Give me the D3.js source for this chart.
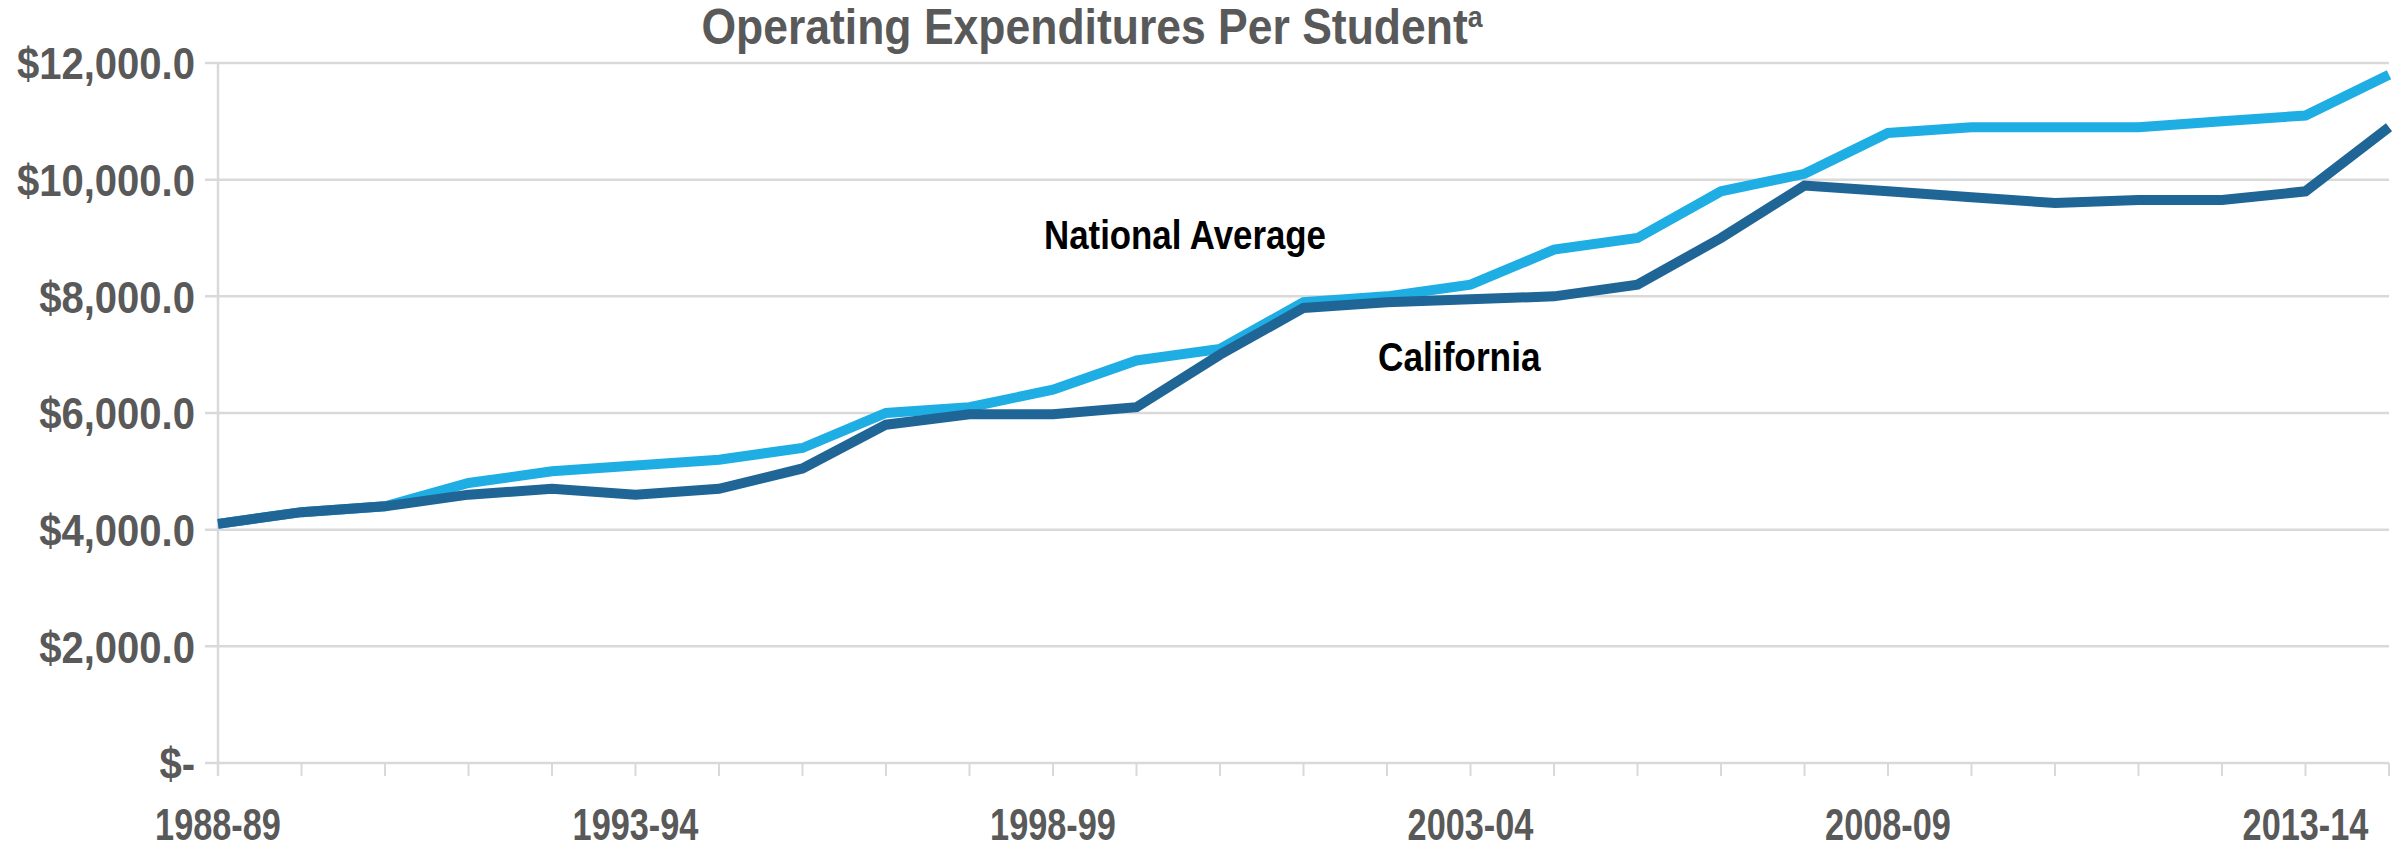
<!DOCTYPE html>
<html>
<head>
<meta charset="utf-8">
<script src="https://cdn.jsdelivr.net/npm/d3@7"></script>
<style>
  body { margin: 0; background: #fff; }
  svg text { font-family: "Liberation Sans", Arial, sans-serif; font-weight: bold; }
</style>
</head>
<body>
<div class="chart"></div>
<script>
// school years on the category axis
const years = ["1988-89", "1989-90", "1990-91", "1991-92", "1992-93", "1993-94", "1994-95",
  "1995-96", "1996-97", "1997-98", "1998-99", "1999-00", "2000-01", "2001-02", "2002-03",
  "2003-04", "2004-05", "2005-06", "2006-07", "2007-08", "2008-09", "2009-10", "2010-11",
  "2011-12", "2012-13", "2013-14", "2014-15"];

// only these get a label under the axis
const tickLabels = ["1988-89", "1993-94", "1998-99", "2003-04", "2008-09", "2013-14"];

const yTicks = [0, 2000, 4000, 6000, 8000, 10000, 12000];

// per student, dollars
const nationalAverage = [4100, 4300, 4400, 4800, 5000, 5100, 5200, 5400, 6000, 6100, 6400,
  6900, 7100, 7900, 8000, 8200, 8800, 9000, 9800, 10100, 10800, 10900, 10900, 10900, 11000,
  11100, 11800];
const california = [4100, 4300, 4400, 4600, 4700, 4600, 4700, 5050, 5800, 5980, 5980,
  6100, 7000, 7800, 7900, 7950, 8000, 8200, 9000, 9900, 9800, 9700, 9600, 9650, 9650,
  9800, 10900];

const W = 2408, H = 851;
const margin = {top: 63, right: 19, bottom: 88, left: 218};

const svg = d3.select(".chart").append("svg")
  .attr("width", W).attr("height", H);

const x = d3.scalePoint().domain(years).range([margin.left, W - margin.right]);
const y = d3.scaleLinear().domain([0, 12000]).range([H - margin.bottom, margin.top]);

const grey = "#d9d9d9", textGrey = "#595959";

// no narrow font installed, so squeeze the regular bold one
const narrow = (sel, px, py, sx) => sel.attr("transform", `translate(${px},${py}) scale(${sx},1)`);

// gridlines
svg.append("g").selectAll("line").data(yTicks).join("line")
  .attr("x1", margin.left - 13).attr("x2", W - margin.right)
  .attr("y1", d => y(d)).attr("y2", d => y(d))
  .attr("stroke", grey).attr("stroke-width", 2.5);

// y axis line
svg.append("line")
  .attr("x1", margin.left).attr("x2", margin.left)
  .attr("y1", y(12000)).attr("y2", y(0) + 13)
  .attr("stroke", grey).attr("stroke-width", 2.5);

// x ticks, one per category
svg.append("g").selectAll("line").data(years).join("line")
  .attr("x1", d => x(d)).attr("x2", d => x(d))
  .attr("y1", y(0)).attr("y2", y(0) + 13)
  .attr("stroke", grey).attr("stroke-width", 2);

// y labels
const fmt = d3.format(",.1f");
svg.append("g").selectAll("text").data(yTicks).join("text")
  .each(function(d) { narrow(d3.select(this), margin.left - 23, y(d), 0.89); })
  .attr("dy", "0.36em")
  .attr("text-anchor", "end")
  .attr("font-size", 45)
  .attr("fill", textGrey)
  .text(d => d === 0 ? "$-" : "$" + fmt(d));

// x labels
svg.append("g").selectAll("text").data(tickLabels).join("text")
  .each(function(d) { narrow(d3.select(this), x(d), H - 11, 0.78); })
  .attr("text-anchor", "middle")
  .attr("font-size", 44)
  .attr("fill", textGrey)
  .text(d => d);

// lines
const line = d3.line().x((d, i) => x(years[i])).y(d => y(d));

svg.append("path").datum(nationalAverage)
  .attr("d", line).attr("fill", "none")
  .attr("stroke", "#1faee3").attr("stroke-width", 10);

svg.append("path").datum(california)
  .attr("d", line).attr("fill", "none")
  .attr("stroke", "#1f6596").attr("stroke-width", 10);

// series labels
narrow(svg.append("text"), 1044, 249, 0.85)
  .attr("font-size", 41).attr("fill", "#000").text("National Average");
narrow(svg.append("text"), 1378, 371, 0.86)
  .attr("font-size", 41).attr("fill", "#000").text("California");

// title
const title = narrow(svg.append("text"), 1092, 44, 0.89)
  .attr("text-anchor", "middle").attr("font-size", 50).attr("fill", textGrey);
title.append("tspan").text("Operating Expenditures Per Student");
title.append("tspan").attr("font-size", 30).attr("dy", -17).text("a");
</script>
</body>
</html>
